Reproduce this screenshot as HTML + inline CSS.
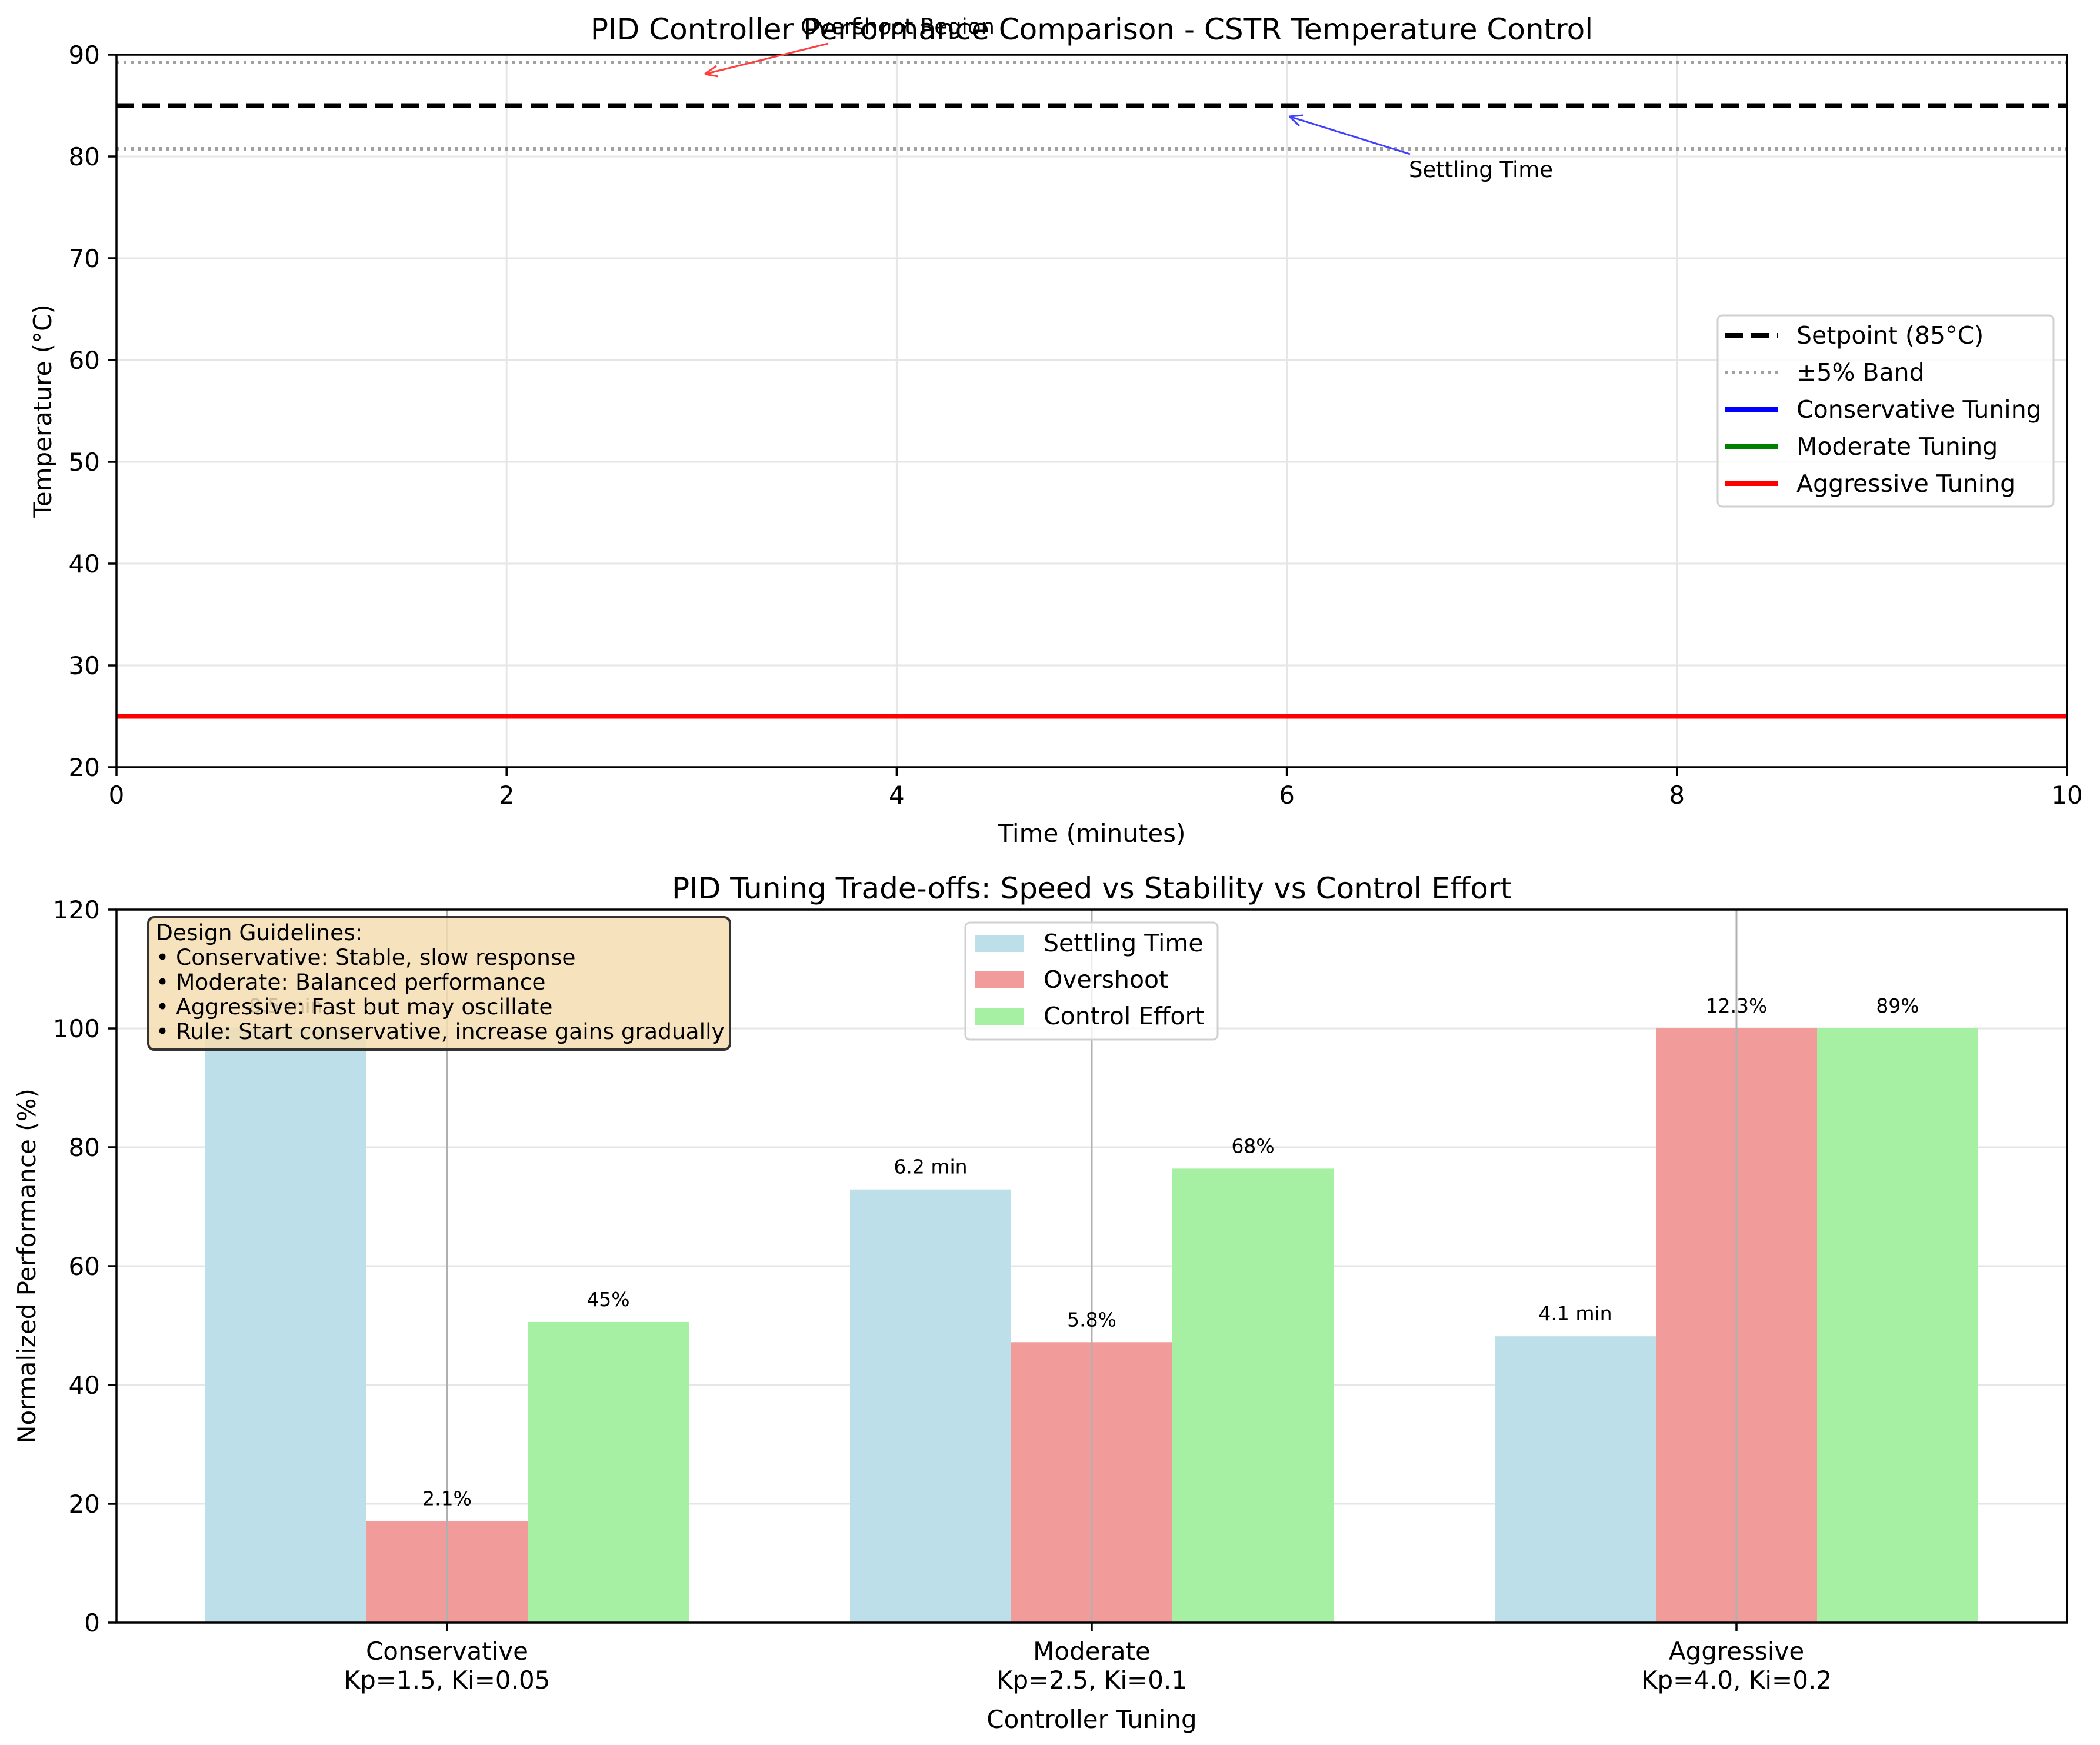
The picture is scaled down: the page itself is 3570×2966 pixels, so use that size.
<!DOCTYPE html>
<html><head><meta charset="utf-8">
<style>
html,body{margin:0;padding:0;background:#fff;}
svg{display:block;font-family:"DejaVu Sans","Liberation Sans",sans-serif;}
</style></head>
<body>
<svg id="fig" width="3570" height="2966" viewBox="0 0 3570 2966" xmlns="http://www.w3.org/2000/svg">
<rect x="0" y="0" width="3570" height="2966" fill="#fff"/>
<g id="topchart"></g>
<g id="botchart"></g>
</svg>
<script>
// ---- top chart data ----
const timeTicks = [0, 2, 4, 6, 8, 10];
const tempTicks = [20, 30, 40, 50, 60, 70, 80, 90];
const setpoint = [85];
const bandValues = [89.25, 80.75];
const aggressiveTemp = [25, 25];
const aggressiveTime = [0, 10];
// ---- bottom chart data ----
const categories = ['Conservative', 'Moderate', 'Aggressive'];
const catSub = ['Kp=1.5, Ki=0.05', 'Kp=2.5, Ki=0.1', 'Kp=4.0, Ki=0.2'];
const settlingNorm = [100, 72.9, 48.2];
const overshootNorm = [17.1, 47.2, 100];
const effortNorm = [50.6, 76.4, 100];
const settlingLabels = ['8.5 min', '6.2 min', '4.1 min'];
const overshootLabels = ['2.1%', '5.8%', '12.3%'];
const effortLabels = ['45%', '68%', '89%'];
const perfTicks = [0, 20, 40, 60, 80, 100, 120];

const NS = 'http://www.w3.org/2000/svg';
function mk(parent, tag, attrs, text) {
  const e = document.createElementNS(NS, tag);
  for (const k in attrs) e.setAttribute(k, attrs[k]);
  if (text !== undefined) e.textContent = text;
  parent.appendChild(e);
  return e;
}
const L = 198, R = 3514;
// ===== TOP =====
const gTop = document.getElementById('topchart');
const tT = 93, tB = 1304;
const xT = v => L + (v - 0) / 10 * (R - L);
const yT = v => tB - (v - 20) / 70 * (tB - tT);
let el;
tempTicks.forEach(v => {
  el = mk(gTop, 'line', {x1: L, x2: R, y1: yT(v), y2: yT(v), stroke: '#e6e6e6', 'stroke-width': 3});
  
  
});
timeTicks.forEach(v => {
  el = mk(gTop, 'line', {x1: xT(v), x2: xT(v), y1: tT, y2: tB, stroke: '#e6e6e6', 'stroke-width': 3});
  
  
});
bandValues.forEach(v => {
  el = mk(gTop, 'line', {x1: L, x2: R, y1: yT(v), y2: yT(v), stroke: '#a0a0a0', 'stroke-width': 6, 'stroke-dasharray': '5 7'});
  
  
});
el = mk(gTop, 'line', {x1: L, x2: R, y1: yT(setpoint[0]), y2: yT(setpoint[0]), stroke: '#000', 'stroke-width': 8, 'stroke-dasharray': '30 14'});


el = mk(gTop, 'line', {x1: xT(aggressiveTime[0]), x2: xT(aggressiveTime[1]), y1: yT(aggressiveTemp[0]), y2: yT(aggressiveTemp[1]), stroke: '#ff0000', 'stroke-width': 8});


el = mk(gTop, 'rect', {x: L, y: tT, width: R - L, height: tB - tT, fill: 'none', stroke: '#000', 'stroke-width': 3.5});


tempTicks.forEach(v => {
  mk(gTop, 'line', {x1: L - 15, x2: L, y1: yT(v), y2: yT(v), stroke: '#000', 'stroke-width': 3.5});
  el = mk(gTop, 'text', {x: L - 28, y: yT(v) + 15, 'text-anchor': 'end', 'font-size': 42}, String(v));
  
  
});
timeTicks.forEach(v => {
  mk(gTop, 'line', {x1: xT(v), x2: xT(v), y1: tB, y2: tB + 15, stroke: '#000', 'stroke-width': 3.5});
  el = mk(gTop, 'text', {x: xT(v), y: tB + 62, 'text-anchor': 'middle', 'font-size': 42}, String(v));
  
  
});
el = mk(gTop, 'text', {x: (L + R) / 2, y: 67, 'text-anchor': 'middle', 'font-size': 50}, 'PID Controller Performance Comparison - CSTR Temperature Control');


el = mk(gTop, 'text', {x: (L + R) / 2, y: 1431, 'text-anchor': 'middle', 'font-size': 42}, 'Time (minutes)');


el = mk(gTop, 'text', {x: 87, y: (tT + tB) / 2, 'text-anchor': 'middle', 'font-size': 42, transform: `rotate(-90 87 ${(tT + tB) / 2})`}, 'Temperature (°C)');


// annotations
mk(gTop, 'line', {x1: 1408, y1: 74, x2: 1198, y2: 126, stroke: '#ff4040', 'stroke-width': 3});
mk(gTop, 'path', {d: 'M1198 126 l20 -14 M1198 126 l23 4', stroke: '#ff4040', 'stroke-width': 3, fill: 'none'});
el = mk(gTop, 'text', {x: 1361, y: 58, 'font-size': 37}, 'Overshoot Region');


mk(gTop, 'line', {x1: 2397, y1: 262, x2: 2192, y2: 198, stroke: '#4040ff', 'stroke-width': 3});
mk(gTop, 'path', {d: 'M2192 198 l23 -2 M2192 198 l17 16', stroke: '#4040ff', 'stroke-width': 3, fill: 'none'});
el = mk(gTop, 'text', {x: 2395, y: 301, 'font-size': 37}, 'Settling Time');


// legend
const lg = mk(gTop, 'g', {});


mk(lg, 'rect', {x: 2920, y: 536, width: 571, height: 325, rx: 8, fill: 'rgba(255,255,255,0.8)', stroke: '#d0d0d0', 'stroke-width': 3});
const legItems = [
  ['Setpoint (85°C)', '#000', '30 14', 8],
  ['±5% Band', '#a0a0a0', '5 7', 6],
  ['Conservative Tuning', '#0000ff', '', 8],
  ['Moderate Tuning', '#008000', '', 8],
  ['Aggressive Tuning', '#ff0000', '', 8]];
legItems.forEach((it, i) => {
  const y = 570 + i * 63;
  const a = {x1: 2933, x2: 3022, y1: y, y2: y, stroke: it[1], 'stroke-width': it[3]};
  if (it[2]) a['stroke-dasharray'] = it[2];
  mk(lg, 'line', a);
  el = mk(lg, 'text', {x: 3054, y: y + 14, 'font-size': 41}, it[0]);
  
  
});

// ===== BOTTOM =====
const gBot = document.getElementById('botchart');
const bT = 1546, bB = 2758;
const groupW = 1096, c0 = 760, bw = 274;
const xB = i => c0 + i * groupW;
const yB = v => bB - v / 120 * (bB - bT);
perfTicks.forEach(v => {
  el = mk(gBot, 'line', {x1: L, x2: R, y1: yB(v), y2: yB(v), stroke: '#e6e6e6', 'stroke-width': 3});
  
  
});
const series = [
  [settlingNorm, settlingLabels, '#bcdfea', -1, 'settling-bar'],
  [overshootNorm, overshootLabels, '#f29b9b', 0, 'overshoot-bar'],
  [effortNorm, effortLabels, '#a6f0a4', 1, 'effort-bar']];
series.forEach(s => {
  s[0].forEach((v, i) => {
    const cx = xB(i) + s[3] * bw;
    el = mk(gBot, 'rect', {x: cx - bw / 2, y: yB(v), width: bw, height: bB - yB(v), fill: s[2]});
    
    
  });
});
categories.forEach((c, i) => {
  el = mk(gBot, 'line', {x1: xB(i), x2: xB(i), y1: bT, y2: bB, stroke: '#b0b0b0', 'stroke-width': 3});
  
  
});
series.forEach(s => {
  s[0].forEach((v, i) => {
    const cx = xB(i) + s[3] * bw;
    el = mk(gBot, 'text', {x: cx, y: yB(v) - 27, 'text-anchor': 'middle', 'font-size': 33}, s[1][i]);
    
    
  });
});
el = mk(gBot, 'rect', {x: L, y: bT, width: R - L, height: bB - bT, fill: 'none', stroke: '#000', 'stroke-width': 3.5});


perfTicks.forEach(v => {
  mk(gBot, 'line', {x1: L - 15, x2: L, y1: yB(v), y2: yB(v), stroke: '#000', 'stroke-width': 3.5});
  el = mk(gBot, 'text', {x: L - 28, y: yB(v) + 15, 'text-anchor': 'end', 'font-size': 42}, String(v));
  
  
});
categories.forEach((c, i) => {
  mk(gBot, 'line', {x1: xB(i), x2: xB(i), y1: bB, y2: bB + 15, stroke: '#000', 'stroke-width': 3.5});
  el = mk(gBot, 'text', {x: xB(i), y: 2821, 'text-anchor': 'middle', 'font-size': 42}, c);
  
  
  el = mk(gBot, 'text', {x: xB(i), y: 2870, 'text-anchor': 'middle', 'font-size': 42}, catSub[i]);
  
  
});
el = mk(gBot, 'text', {x: (L + R) / 2, y: 1527, 'text-anchor': 'middle', 'font-size': 50}, 'PID Tuning Trade-offs: Speed vs Stability vs Control Effort');


el = mk(gBot, 'text', {x: (L + R) / 2, y: 2937, 'text-anchor': 'middle', 'font-size': 42}, 'Controller Tuning');


el = mk(gBot, 'text', {x: 60, y: (bT + bB) / 2, 'text-anchor': 'middle', 'font-size': 42, transform: `rotate(-90 60 ${(bT + bB) / 2})`}, 'Normalized Performance (%)');


// guidelines box
const gb = mk(gBot, 'g', {});


mk(gb, 'rect', {x: 252, y: 1559, width: 989, height: 225, rx: 10, fill: 'rgba(245,222,179,0.85)', stroke: '#333', 'stroke-width': 4});
const guide = ['Design Guidelines:', '• Conservative: Stable, slow response', '• Moderate: Balanced performance', '• Aggressive: Fast but may oscillate', '• Rule: Start conservative, increase gains gradually'];
guide.forEach((t, i) => {
  el = mk(gb, 'text', {x: 265, y: 1598 + i * 42, 'font-size': 37.5}, t);
  
  
});
// legend
const lb = mk(gBot, 'g', {});


mk(lb, 'rect', {x: 1641, y: 1568, width: 429, height: 199, rx: 8, fill: 'rgba(255,255,255,0.8)', stroke: '#d0d0d0', 'stroke-width': 3});
[['Settling Time', '#bcdfea'], ['Overshoot', '#f29b9b'], ['Control Effort', '#a6f0a4']].forEach((it, i) => {
  const y = 1603 + i * 62;
  mk(lb, 'rect', {x: 1658, y: y - 14, width: 83, height: 29, fill: it[1]});
  el = mk(lb, 'text', {x: 1774, y: y + 14, 'font-size': 41}, it[0]);
  
  
});
</script>
</body></html>
